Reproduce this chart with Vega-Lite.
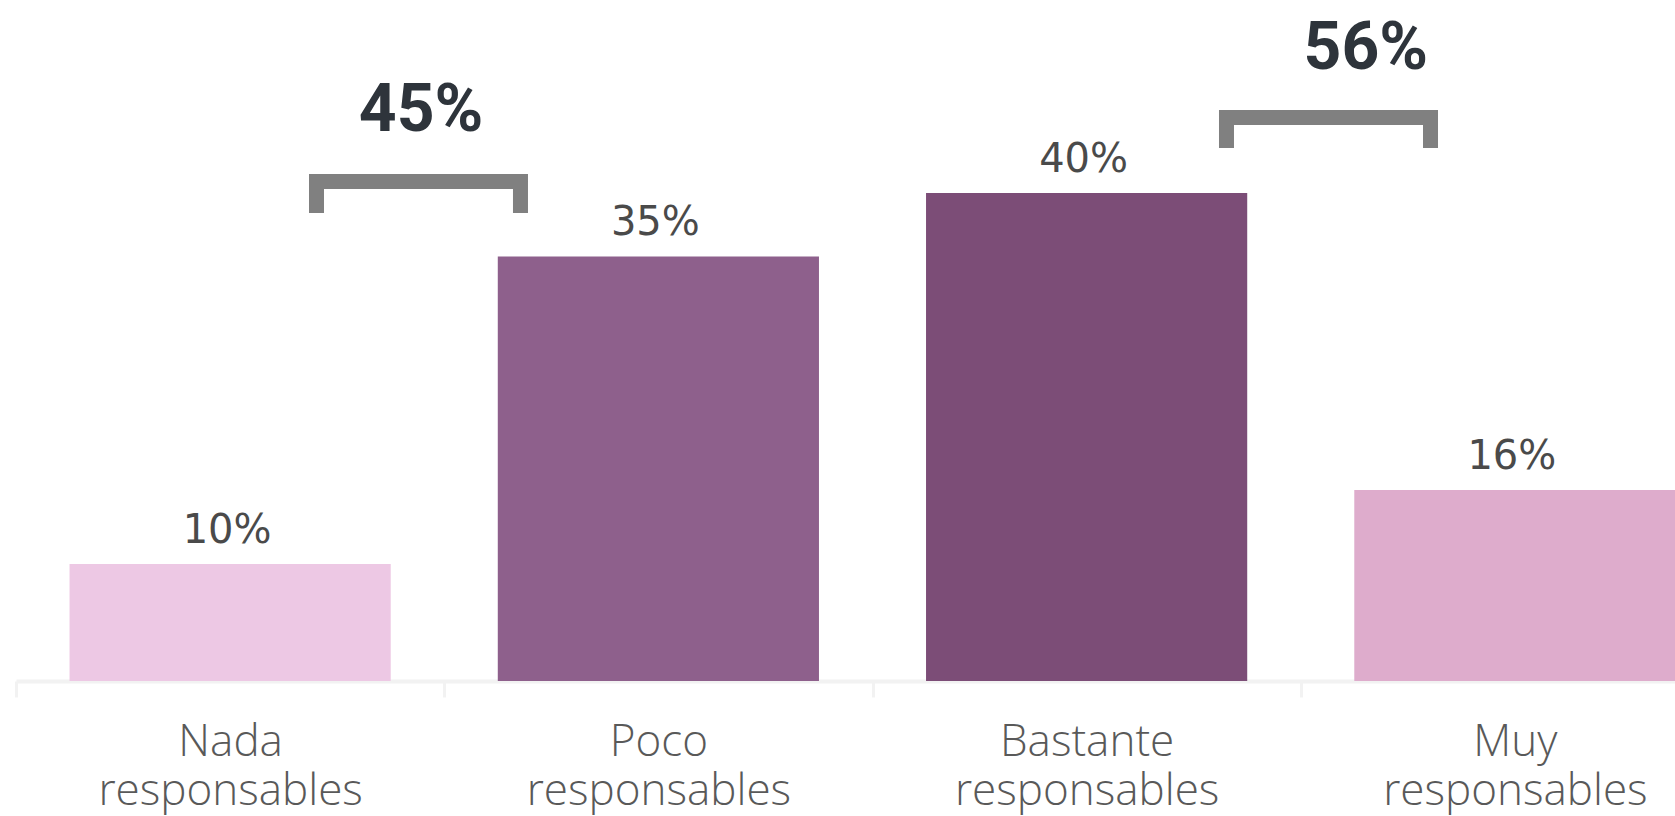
{
  "$schema": "https://vega.github.io/schema/vega-lite/v6.json",
  "width": 1659,
  "height": 681,
  "autosize": {"type": "none"},
  "padding": {"left": 16, "top": 0, "right": 0, "bottom": 135},
  "background": "white",
  "config": {"view": {"stroke": null}},
  "datasets": {
    "bars": [
      {"cat": "Nada responsables", "value": 9.6, "label": "10%"},
      {"cat": "Poco responsables", "value": 34.8, "label": "35%"},
      {"cat": "Bastante responsables", "value": 40.0, "label": "40%"},
      {"cat": "Muy responsables", "value": 15.66, "label": "16%"}
    ],
    "brackets": [
      {"grp": "A", "i": 0, "pos": 0.7017, "level": 38.36},
      {"grp": "A", "i": 1, "pos": 0.7017, "level": 40.94},
      {"grp": "A", "i": 2, "pos": 1.178, "level": 40.94},
      {"grp": "A", "i": 3, "pos": 1.178, "level": 38.36},
      {"grp": "B", "i": 0, "pos": 2.8266, "level": 43.69},
      {"grp": "B", "i": 1, "pos": 2.8266, "level": 46.19},
      {"grp": "B", "i": 2, "pos": 3.303, "level": 46.19},
      {"grp": "B", "i": 3, "pos": 3.303, "level": 43.69}
    ],
    "totals": [
      {"pos": 0.946, "level": 45.08, "label": "45%"},
      {"pos": 3.152, "level": 50.16, "label": "56%"}
    ]
  },
  "layer": [
    {
      "data": {"name": "bars"},
      "mark": {"type": "bar", "width": {"band": 0.75}},
      "encoding": {
        "x": {
          "field": "cat", "type": "nominal", "sort": null,
          "scale": {"range": [0, 1713], "paddingInner": 0, "paddingOuter": 0},
          "axis": {
            "title": null,
            "domainColor": "#f2f2f2", "domainWidth": 4,
            "tickColor": "#f2f2f2", "tickWidth": 3, "tickSize": 16, "tickBand": "extent",
            "labelAngle": 0, "labelFont": "Open Sans", "labelFontSize": 44, "labelFontWeight": 300,
            "labelColor": "#595959", "labelLineHeight": 49, "labelPadding": 23, "labelLimit": 0,
            "labelExpr": "split(datum.label, ' ')"
          }
        },
        "y": {"field": "value", "type": "quantitative", "scale": {"domain": [0, 55.82]}, "axis": null},
        "color": {
          "field": "cat", "type": "nominal", "sort": null,
          "scale": {"range": ["#EDC8E4", "#8E608C", "#7C4D77", "#DEACCC"]},
          "legend": null
        }
      }
    },
    {
      "data": {"name": "bars"},
      "mark": {"type": "text", "dy": -21, "baseline": "alphabetic", "font": "DejaVu Sans", "fontSize": 40, "color": "#4a4a4a", "dx": -3},
      "encoding": {
        "x": {
          "field": "cat", "type": "nominal", "sort": null,
          "scale": {"range": [0, 1713], "paddingInner": 0, "paddingOuter": 0},
          "axis": null
        },
        "y": {"field": "value", "type": "quantitative", "scale": {"domain": [0, 55.82]}},
        "text": {"field": "label"}
      }
    },
    {
      "data": {"name": "brackets"},
      "mark": {"type": "line", "strokeWidth": 15, "color": "#808080", "strokeJoin": "miter", "strokeCap": "butt"},
      "encoding": {
        "x": {"field": "pos", "type": "quantitative", "scale": {"domain": [0, 4], "range": [0, 1713]}, "axis": null},
        "y": {"field": "level", "type": "quantitative", "scale": {"domain": [0, 55.82]}},
        "detail": {"field": "grp"},
        "order": {"field": "i"}
      }
    },
    {
      "data": {"name": "totals"},
      "mark": {"type": "text", "baseline": "alphabetic", "font": "Roboto", "fontWeight": "bold", "fontSize": 66, "color": "#2E343B"},
      "encoding": {
        "x": {"field": "pos", "type": "quantitative", "scale": {"domain": [0, 4], "range": [0, 1713]}, "axis": null},
        "y": {"field": "level", "type": "quantitative", "scale": {"domain": [0, 55.82]}},
        "text": {"field": "label"}
      }
    }
  ],
  "resolve": {"scale": {"x": "independent"}}
}
